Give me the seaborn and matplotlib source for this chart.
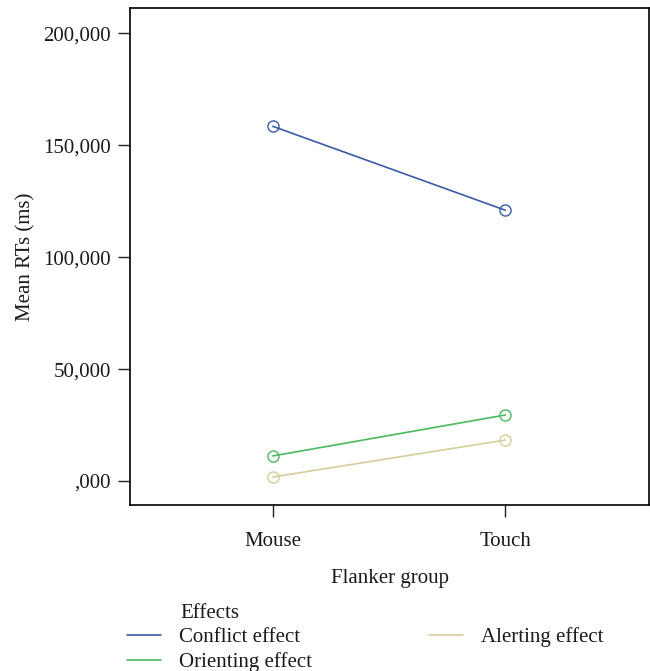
import pandas as pd
import matplotlib.pyplot as plt
import seaborn as sns
from matplotlib.lines import Line2D

# data
groups = ["Mouse", "Touch"]
effects = ["Conflict effect", "Orienting effect", "Alerting effect"]
conflict = [158500, 121000]
orienting = [11200, 29500]
alerting = [1800, 18300]
colors = ["#3b5ba8", "#4cba5e", "#d5cd9b"]

ytick_values = [0, 50000, 100000, 150000, 200000]
ytick_labels = [",000", "50,000", "100,000", "150,000", "200,000"]

sns.set_theme(style="white")
plt.rcParams["font.family"] = ["Liberation Serif", "DejaVu Serif"]
plt.rcParams["font.size"] = 15

df = pd.DataFrame({
    "Flanker group": groups * 3,
    "Mean RTs (ms)": conflict + orienting + alerting,
    "Effects": [e for e in effects for _ in groups],
})

fig = plt.figure(figsize=(6.5, 6.71), dpi=100)
ax = fig.add_axes([0.2, 0.2474, 0.7985, 0.74])

for eff, col in zip(effects, colors):
    sub = df[df["Effects"] == eff]
    sns.lineplot(data=sub, x="Flanker group", y="Mean RTs (ms)", ax=ax,
                 color=col, lw=1.2, marker="o", markersize=8,
                 mfc="none", mec=col, mew=1.0)

ax.set_xlim(-0.614, 1.618)
ax.set_ylim(-10714, 211160)
ax.set_yticks(ytick_values)
ax.set_yticklabels(ytick_labels)
ax.set_xticks([0, 1])
ax.set_xticklabels(groups)

for s in ax.spines.values():
    s.set_color("black")
    s.set_linewidth(1.2)
ax.tick_params(axis="both", direction="out", length=8.6, width=1.0,
               color="#222222", labelsize=15, labelcolor="#1a1a1a")
ax.tick_params(axis="y", pad=5)
ax.tick_params(axis="x", pad=10.5)
ax.tick_params(left=True, bottom=True)
ax.set_xlabel("Flanker group", fontsize=15, labelpad=13, color="#1a1a1a")
ax.set_ylabel("Mean RTs (ms)", fontsize=15, labelpad=6, color="#1a1a1a")

# legend at the bottom
fig.text(180 / 650, 1 - 613 / 671, "Effects", fontsize=15,
         va="center", ha="left", color="#1a1a1a")
handles = [Line2D([], [], color=c, lw=1.2) for c in colors]
fig.legend(handles, effects, loc="upper left",
           bbox_to_anchor=(127 / 650, 1 - 627 / 671),
           ncol=2, frameon=False, fontsize=15, borderpad=0,
           borderaxespad=0, handlelength=1.63, handletextpad=0.87,
           columnspacing=5.6, labelspacing=0.25, labelcolor="#1a1a1a")

fig.savefig("out.png", dpi=100)
